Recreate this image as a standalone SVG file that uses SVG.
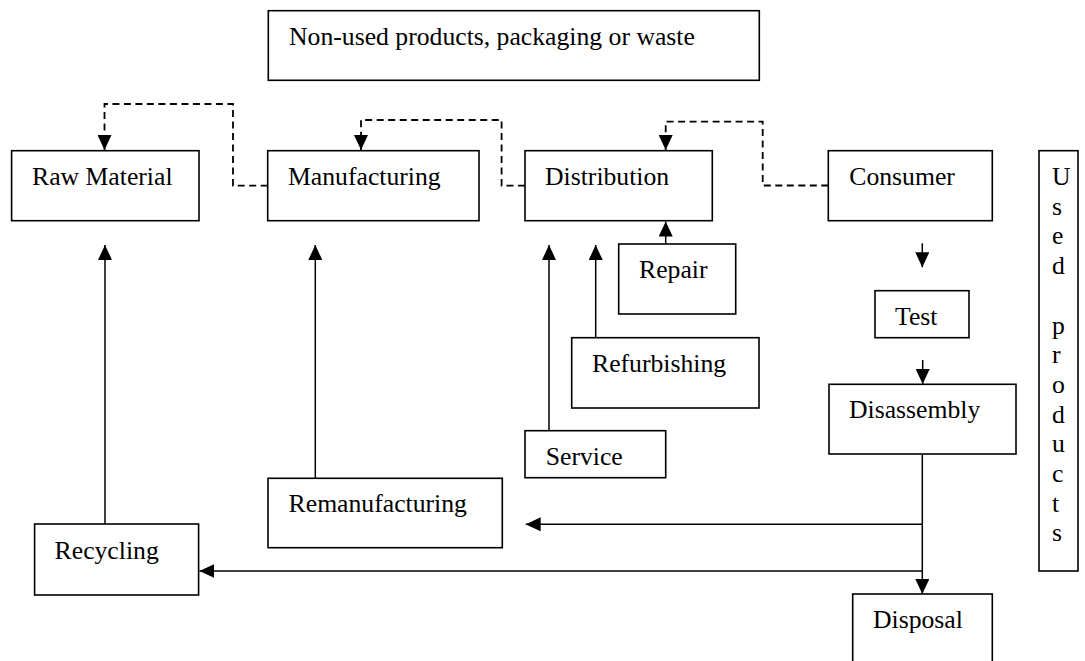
<svg xmlns="http://www.w3.org/2000/svg" width="1085" height="661" viewBox="0 0 1085 661">
<style>
.box{fill:#fff;stroke:#000;stroke-width:1.6}
.t{font-family:"Liberation Serif","Times New Roman",serif;font-size:25.7px;fill:#000}
.ln{fill:none;stroke:#000;stroke-width:1.5}
.dash{fill:none;stroke:#000;stroke-width:1.8;stroke-dasharray:7,4.5}
</style>
<defs>
<marker id="ah" markerUnits="userSpaceOnUse" markerWidth="15" markerHeight="14" refX="15" refY="7" orient="auto" viewBox="0 0 15 14">
<path d="M0,0 L15,7 L0,14 z" fill="#000"/>
</marker>
</defs>
<rect width="1085" height="661" fill="#fff"/>
<g id="connectors">
<path class="dash" d="M267.7,185.7 H233 V104 H104.5 V150" marker-end="url(#ah)"/>
<path class="dash" d="M525,185.7 H501.6 V120 H361 V150" marker-end="url(#ah)"/>
<path class="dash" d="M828.3,185.5 H762.7 V121.7 H665.7 V150" marker-end="url(#ah)"/>
<path class="ln" d="M105,524 V245" marker-end="url(#ah)"/>
<path class="ln" d="M315.3,478 V245" marker-end="url(#ah)"/>
<path class="ln" d="M549,430.7 V245" marker-end="url(#ah)"/>
<path class="ln" d="M595.7,337.7 V245" marker-end="url(#ah)"/>
<path class="ln" d="M665.7,244 V221.5" marker-end="url(#ah)"/>
<path class="ln" d="M922.3,243.3 V267.3" marker-end="url(#ah)"/>
<path class="ln" d="M922.7,360 V384" marker-end="url(#ah)"/>
<path class="ln" d="M922.3,454 V594" marker-end="url(#ah)"/>
<path class="ln" d="M922.3,524.3 H525.7" marker-end="url(#ah)"/>
<path class="ln" d="M922.3,571 H199.4" marker-end="url(#ah)"/>
</g>
<g id="n-nonused"><rect class="box" x="268.3" y="10.7" width="491" height="69.6"/><text class="t" x="289" y="45">Non-used products, packaging or waste</text></g>
<g id="n-raw"><rect class="box" x="11.6" y="150.7" width="187.4" height="70"/><text class="t" x="32" y="185">Raw Material</text></g>
<g id="n-manu"><rect class="box" x="267.7" y="150.7" width="211.3" height="70"/><text class="t" x="288" y="185">Manufacturing</text></g>
<g id="n-dist"><rect class="box" x="525" y="150.7" width="187.3" height="70"/><text class="t" x="545" y="185">Distribution</text></g>
<g id="n-cons"><rect class="box" x="828.3" y="150.7" width="164" height="70"/><text class="t" x="849.3" y="185">Consumer</text></g>
<g id="n-used"><rect class="box" x="1039" y="150.7" width="39" height="420.3"/>
<text class="t" x="1052" y="185">U</text>
<text class="t" x="1052" y="214.7">s</text>
<text class="t" x="1052" y="244.4">e</text>
<text class="t" x="1052" y="274.1">d</text>
<text class="t" x="1052" y="333.5">p</text>
<text class="t" x="1052" y="363.2">r</text>
<text class="t" x="1052" y="392.9">o</text>
<text class="t" x="1052" y="422.6">d</text>
<text class="t" x="1052" y="452.3">u</text>
<text class="t" x="1052" y="482">c</text>
<text class="t" x="1052" y="511.7">t</text>
<text class="t" x="1052" y="541.4">s</text>
</g>
<g id="n-repair"><rect class="box" x="618.7" y="244" width="117" height="70"/><text class="t" x="639" y="278">Repair</text></g>
<g id="n-refurb"><rect class="box" x="571.7" y="337.7" width="187.3" height="70.3"/><text class="t" x="592" y="371.7">Refurbishing</text></g>
<g id="n-service"><rect class="box" x="525" y="430.7" width="140.7" height="47"/><text class="t" x="545.7" y="465">Service</text></g>
<g id="n-test"><rect class="box" x="875" y="290.7" width="94" height="47"/><text class="t" x="895" y="325">Test</text></g>
<g id="n-disas"><rect class="box" x="829" y="384.3" width="187" height="69.7"/><text class="t" x="849" y="418">Disassembly</text></g>
<g id="n-disposal"><rect class="box" x="852.7" y="594" width="139.6" height="90"/><text class="t" x="873" y="627.7">Disposal</text></g>
<g id="n-reman"><rect class="box" x="268" y="478.3" width="234.3" height="69.4"/><text class="t" x="288.6" y="512.3">Remanufacturing</text></g>
<g id="n-recyc"><rect class="box" x="34.6" y="524" width="164" height="71"/><text class="t" x="54.6" y="558.5">Recycling</text></g>
</svg>
